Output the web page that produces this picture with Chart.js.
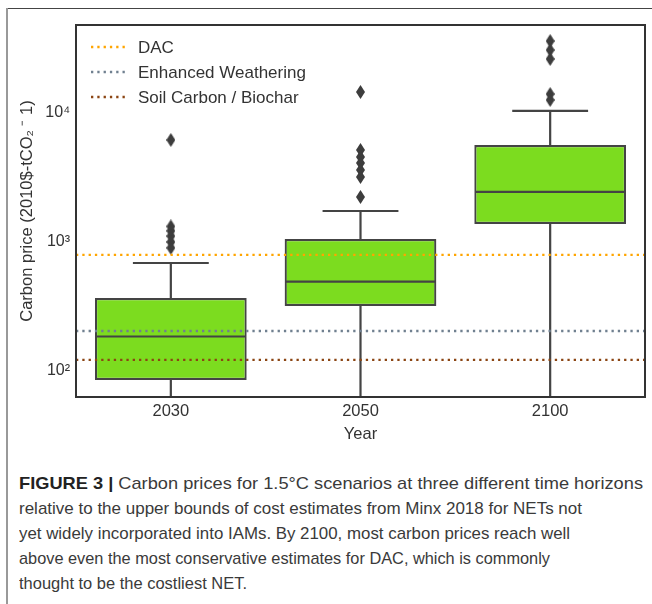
<!DOCTYPE html>
<html><head><meta charset="utf-8">
<script src="https://cdn.jsdelivr.net/npm/chart.js@4.4.0/dist/chart.umd.min.js"></script>
<style>
html,body{margin:0;padding:0;background:#fff;width:652px;height:604px;overflow:hidden;}
#wrap{position:absolute;left:0;top:0;width:652px;height:450px;}
.frameTop{position:absolute;left:7px;top:8px;width:645px;height:1px;background:#444;z-index:5;}
.frameLeft{position:absolute;left:6px;top:8px;width:2px;height:596px;background:#999;z-index:5;}
#caption{position:absolute;left:19px;top:471px;font-family:'Liberation Sans',Arial,sans-serif;font-size:17px;color:#3a3a3a;}
#caption div{height:25px;line-height:25px;white-space:nowrap;transform-origin:0 50%;}
#caption b{color:#222;}
</style></head><body>
<div id="wrap"><canvas id="c" width="652" height="450"></canvas></div>
<div class="frameTop"></div><div class="frameLeft"></div>
<div id="caption">
<div data-w="624"><b>FIGURE 3 |</b> Carbon prices for 1.5°C scenarios at three different time horizons</div>
<div data-w="563">relative to the upper bounds of cost estimates from Minx 2018 for NETs not</div>
<div data-w="551">yet widely incorporated into IAMs. By 2100, most carbon prices reach well</div>
<div data-w="531">above even the most conservative estimates for DAC, which is commonly</div>
<div data-w="228">thought to be the costliest NET.</div>
</div>
<script>
// ---- data ----
const categories = ['2030', '2050', '2100'];
const q1 = [85, 319, 1380];
const medians = [185, 492, 2444];
const q3 = [368, 1055, 5650];
const whiskerLow = [10, 20, 30];
const whiskerHigh = [687, 1738, 10380];
const outliers2030 = [6180, 1320, 1220, 1110, 1000, 900];
const outliers2050 = [14550, 5165, 4560, 4095, 3614, 3190, 2233];
const outliers2100 = [36140, 30760, 26240, 14030, 12610];
const refLabels = ['DAC', 'Enhanced Weathering', 'Soil Carbon / Biochar'];
const refValues = [793, 204, 122];
const refColors = ['#ffa500', '#708090', '#8b4513'];
const yTickValues = [100, 1000, 10000];
const yTickLabels = ['10²', '10³', '10⁴'];
const yMin = 62.8, yMax = 48100;

// caption width fit
document.querySelectorAll('#caption div').forEach(d => {
  const t = +d.dataset.w;
  const span = document.createElement('span');
  span.innerHTML = d.innerHTML; d.innerHTML = ''; d.appendChild(span);
  span.style.display = 'inline-block';
  const nw = span.getBoundingClientRect().width;
  span.style.transformOrigin = '0 50%';
  span.style.transform = 'scaleX(' + (t / nw) + ')';
});

const FONT = "'Liberation Sans', Arial, Helvetica, sans-serif";
Chart.defaults.font.family = FONT;
Chart.defaults.color = '#333';

const LINE = '#444';
const LW = 2.2;

// diamond marker
const diamond = document.createElement('canvas');
diamond.width = 9; diamond.height = 14;
(function(){ const g = diamond.getContext('2d'); g.fillStyle = '#3d3d3d'; g.beginPath();
  g.moveTo(4.5, 0); g.lineTo(9, 7); g.lineTo(4.5, 14); g.lineTo(0, 7); g.closePath(); g.fill(); })();

const outlierPts = [];
[outliers2030, outliers2050, outliers2100].forEach((arr, i) => arr.forEach(v => outlierPts.push({x: categories[i], y: v})));

const datasets = [
  {
    type: 'bar', label: 'box', order: 3, grouped: false,
    data: categories.map((c, i) => [q1[i], q3[i]]),
    backgroundColor: '#7cdc1f', borderColor: LINE, borderWidth: LW, borderSkipped: false,
    barPercentage: 0.8, categoryPercentage: 1.0
  },
  {
    type: 'line', label: 'outliers', order: 2, showLine: false,
    data: outlierPts, pointStyle: diamond, pointRadius: 6
  }
];
refValues.forEach((v, i) => datasets.push({
  type: 'line', label: refLabels[i], order: 1, xAxisID: 'x2', isRef: true,
  data: [{x: 0, y: v}, {x: 1, y: v}],
  borderColor: refColors[i], borderWidth: 2.3, borderDash: [2.3, 4.0], pointRadius: 0, tension: 0
}));

const boxPlugin = {
  id: 'boxparts',
  afterDatasetDraw(chart, args) {
    if (args.index !== 0) return;
    const {ctx, chartArea} = chart;
    const y = chart.scales.y;
    const meta = chart.getDatasetMeta(0);
    ctx.save();
    ctx.beginPath(); ctx.rect(chartArea.left, chartArea.top, chartArea.width, chartArea.height); ctx.clip();
    ctx.strokeStyle = LINE; ctx.lineWidth = LW; ctx.lineCap = 'butt';
    meta.data.forEach((bar, i) => {
      const cx = bar.x, hw = bar.width / 2, cw = bar.width / 4;
      const pq1 = y.getPixelForValue(q1[i]), pq3 = y.getPixelForValue(q3[i]);
      const plo = y.getPixelForValue(whiskerLow[i]), phi = y.getPixelForValue(whiskerHigh[i]);
      const pm = y.getPixelForValue(medians[i]);
      ctx.beginPath();
      ctx.moveTo(cx, pq1); ctx.lineTo(cx, plo);
      ctx.moveTo(cx, pq3); ctx.lineTo(cx, phi);
      ctx.moveTo(cx - cw, phi); ctx.lineTo(cx + cw, phi);
      ctx.moveTo(cx - cw, plo); ctx.lineTo(cx + cw, plo);
      ctx.moveTo(cx - hw + 1, pm); ctx.lineTo(cx + hw - 1, pm);
      ctx.stroke();
    });
    ctx.restore();
  },
  afterDraw(chart) {
    const {ctx, chartArea} = chart;
    ctx.save();
    ctx.strokeStyle = '#333'; ctx.lineWidth = 2;
    ctx.strokeRect(chartArea.left, chartArea.top, chartArea.width, chartArea.height);
    // legend
    const x0 = chartArea.left + 15, y0 = chartArea.top + 22, rowH = 25;
    let row = 0;
    chart.data.datasets.forEach(ds => {
      if (!ds.isRef) return;
      const yy = y0 + row * rowH;
      ctx.strokeStyle = ds.borderColor; ctx.lineWidth = ds.borderWidth;
      ctx.setLineDash(ds.borderDash);
      ctx.beginPath(); ctx.moveTo(x0, yy); ctx.lineTo(x0 + 35, yy); ctx.stroke();
      ctx.setLineDash([]);
      ctx.fillStyle = '#333'; ctx.font = '17px ' + FONT; ctx.textBaseline = 'middle'; ctx.textAlign = 'left';
      ctx.fillText(ds.label, x0 + 47, yy + 1);
      row++;
    });
    ctx.restore();
  }
};

new Chart(document.getElementById('c'), {
  type: 'bar',
  data: {labels: categories, datasets},
  options: {
    responsive: false, animation: false, events: [],
    layout: {padding: {left: 0, top: 25, right: 4, bottom: 0}},
    plugins: {legend: {display: false}, tooltip: {enabled: false}},
    scales: {
      x: {
        type: 'category', offset: true,
        grid: {display: false, drawTicks: false, offset: true}, border: {display: false},
        ticks: {font: {size: 16.5}, color: '#333', padding: 5},
        title: {display: true, text: 'Year', font: {size: 16.5}, color: '#333', padding: {top: 0, bottom: 6}},
        afterFit(s) { s.height = 53; }
      },
      x2: {type: 'linear', min: 0, max: 1, display: false, offset: false, grid: {offset: false}},
      y: {
        type: 'logarithmic', min: yMin, max: yMax,
        grid: {display: false, drawTicks: false}, border: {display: false},
        afterBuildTicks(s) { s.ticks = yTickValues.map(v => ({value: v, major: true})); },
        ticks: {font: {size: 16}, color: '#333', padding: 6, autoSkip: false,
          callback: (v, i) => yTickLabels[i]},
        title: {display: true, text: 'Carbon price (2010$-tCO₂ ⁻ 1)', font: {size: 16.5}, color: '#333', padding: {top: 18, bottom: 0}},
        afterFit(s) { s.width = 76; }
      }
    }
  },
  plugins: [boxPlugin]
});
</script>
</body></html>
